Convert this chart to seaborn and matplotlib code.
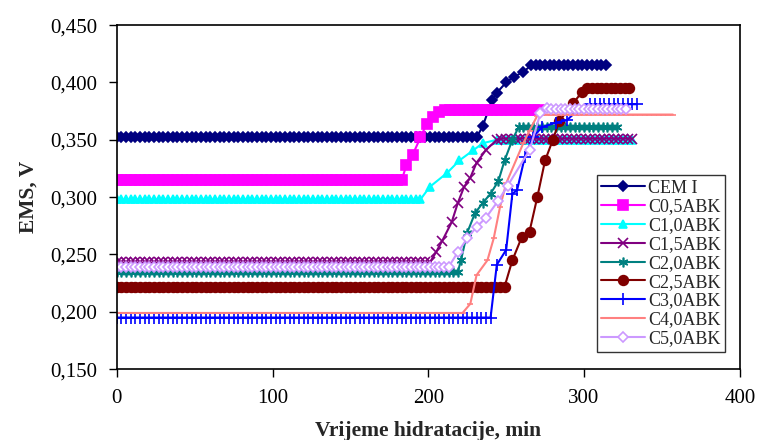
import numpy as np
import pandas as pd
import matplotlib
matplotlib.use("Agg")
import matplotlib.pyplot as plt
import seaborn as sns
from matplotlib.ticker import FuncFormatter

# ---- data (time in min, EMS in V) ----
labels = ["CEM I", "C0,5ABK", "C1,0ABK", "C1,5ABK", "C2,0ABK",
          "C2,5ABK", "C3,0ABK", "C4,0ABK", "C5,0ABK"]
step = 3  # sampling interval of the measurements (min)

base_level = [0.352, 0.315, 0.298, 0.243, 0.235, 0.222, 0.195, 0.199, 0.239]
base_end   = [231, 183, 196, 201, 220, 250, 241, 222, 215]

rise_t = [
    [235, 241, 244, 250, 255, 261, 266],
    [186, 190, 195, 199, 203, 207, 211],
    [201, 212, 220, 229, 235, 244],
    [205, 209, 215, 219, 223, 227, 231, 237, 244],
    [221, 225, 230, 235, 240, 245, 249, 254, 258],
    [254, 260, 265, 270, 275, 280, 284, 293, 299],
    [244, 250, 254, 257, 262, 267, 273, 282, 289, 296, 304],
    [227, 231, 238, 242, 246, 250, 261, 265, 270],
    [219, 225, 231, 237, 245, 251, 265, 272, 276],
]
rise_v = [
    [0.362, 0.385, 0.391, 0.400, 0.405, 0.409, 0.415],
    [0.328, 0.337, 0.352, 0.364, 0.370, 0.374, 0.376],
    [0.309, 0.321, 0.332, 0.341, 0.347, 0.350],
    [0.252, 0.262, 0.278, 0.295, 0.309, 0.317, 0.330, 0.341, 0.350],
    [0.245, 0.269, 0.286, 0.295, 0.303, 0.314, 0.332, 0.350, 0.361],
    [0.245, 0.265, 0.270, 0.300, 0.332, 0.350, 0.366, 0.382, 0.392],
    [0.241, 0.254, 0.303, 0.306, 0.335, 0.352, 0.361, 0.365, 0.367, 0.376, 0.381],
    [0.207, 0.232, 0.245, 0.264, 0.291, 0.312, 0.347, 0.358, 0.371],
    [0.252, 0.264, 0.274, 0.282, 0.297, 0.310, 0.341, 0.373, 0.378],
]
top_level = [0.415, 0.376, 0.350, 0.351, 0.361, 0.395, 0.381, 0.372, 0.377]
top_end   = [316, 273, 333, 331, 322, 331, 336, 357, 329]

x_ticks = [0, 100, 200, 300, 400]
y_ticks = [0.150, 0.200, 0.250, 0.300, 0.350, 0.400, 0.450]

# ---- styles ----
colors = ["#000080", "#FF00FF", "#00FFFF", "#800080", "#008080",
          "#800000", "#0000FF", "#FF8080", "#CC99FF"]
markers = ["D", "s", "^", "x", (6, 2, 0), "o", "+", "_", "D"]
msizes = [5, 7, 6, 7, 7, 7, 8, 5, 5]

frames = []
for i, lab in enumerate(labels):
    t0 = np.arange(0, base_end[i] + 1, step)
    v0 = np.full(len(t0), base_level[i])
    t2 = np.arange(rise_t[i][-1] + step, top_end[i] + 1, step)
    v2 = np.full(len(t2), top_level[i])
    t = np.concatenate([t0, rise_t[i], t2])
    v = np.concatenate([v0, rise_v[i], v2])
    frames.append(pd.DataFrame({"t": t, "v": v, "series": lab}))
df = pd.concat(frames, ignore_index=True)

sns.set_style("white")
plt.rcParams["font.family"] = ["Liberation Serif", "DejaVu Serif"]

fig = plt.figure(figsize=(7.58, 4.40), dpi=100)
ax = fig.add_axes([0.154, 0.161, 0.822, 0.782])

for i, lab in enumerate(labels):
    sub = df[df["series"] == lab]
    open_marker = (i == 8)
    sns.lineplot(data=sub, x="t", y="v", ax=ax, color=colors[i],
                 marker=markers[i], markersize=msizes[i], linewidth=1.5,
                 markeredgecolor=colors[i],
                 markerfacecolor="white" if open_marker else colors[i],
                 markeredgewidth=1.2, estimator=None, sort=False, label=lab)

ax.set_xlim(0, 400)
ax.set_ylim(0.150, 0.450)
ax.set_xticks(x_ticks)
ax.set_yticks(y_ticks)
ax.yaxis.set_major_formatter(FuncFormatter(lambda v, p: f"{v:.3f}".replace(".", ",")))
ax.tick_params(axis="both", labelsize=15, colors="black", length=6, width=1,
               direction="out")
ax.tick_params(axis="y", left=True, pad=8)
ax.tick_params(axis="x", bottom=True, pad=8)
for s in ax.spines.values():
    s.set_color("black")
    s.set_linewidth(1.2)

ax.set_xlabel("Vrijeme hidratacije, min", fontsize=15.5, fontweight="bold", labelpad=10)
ax.set_ylabel("EMS, V", fontsize=15.5, fontweight="bold", labelpad=8)

leg = ax.legend(loc="upper left", bbox_to_anchor=(0.7705, 0.564), borderaxespad=0,
                fontsize=13, frameon=True, fancybox=False, handlelength=2.4,
                labelspacing=0.1, handletextpad=0.2, borderpad=0.25)
leg.get_frame().set_edgecolor("black")
leg.get_frame().set_linewidth(1.0)

fig.savefig("out.png", dpi=100)
